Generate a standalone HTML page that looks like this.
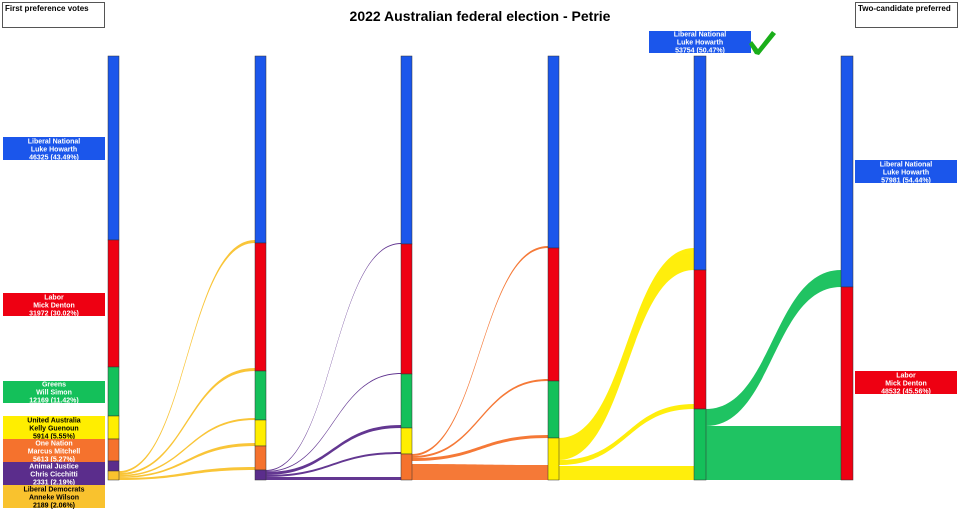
<!DOCTYPE html>
<html><head><meta charset="utf-8"><style>
body{margin:0;background:#fff;}
svg{display:block;font-family:"Liberation Sans",sans-serif;}
</style></head><body>
<svg width="960" height="509" viewBox="0 0 960 509" xmlns="http://www.w3.org/2000/svg">
<rect x="0" y="0" width="960" height="509" fill="#fff"/>
<rect x="2.5" y="2.5" width="102" height="25" fill="#fff" stroke="#555"/>
<text x="5" y="11" font-size="8" font-weight="bold">First preference votes</text>
<rect x="855.5" y="2.5" width="102" height="25" fill="#fff" stroke="#555"/>
<text x="858" y="11" font-size="8" font-weight="bold">Two-candidate preferred</text>
<text x="480" y="21" font-size="14" font-weight="bold" text-anchor="middle">2022 Australian federal election - Petrie</text>

<g opacity="0.95">
<path d="M119 471 C187 471 187 240 255 240 L255 243 C187 243 187 473 119 473Z" fill="#f9c22e"/>
<path d="M119 473 C187 473 187 368 255 368 L255 371 C187 371 187 475 119 475Z" fill="#f9c22e"/>
<path d="M119 475 C187 475 187 418 255 418 L255 420 C187 420 187 476.5 119 476.5Z" fill="#f9c22e"/>
<path d="M119 476.5 C187 476.5 187 443 255 443 L255 446 C187 446 187 478 119 478Z" fill="#f9c22e"/>
<path d="M119 478 C187 478 187 467 255 467 L255 470 C187 470 187 480 119 480Z" fill="#f9c22e"/>
<path d="M266 470 C333 470 333 243 401 243 L401 244 C333 244 333 471 266 471Z" fill="#5b2d8c"/>
<path d="M266 471 C333 471 333 373 401 373 L401 374 C333 374 333 472 266 472Z" fill="#5b2d8c"/>
<path d="M266 472 C333 472 333 425 401 425 L401 428 C333 428 333 475 266 475Z" fill="#5b2d8c"/>
<path d="M266 475 C333 475 333 452 401 452 L401 454 C333 454 333 477 266 477Z" fill="#5b2d8c"/>
<path d="M266 477 C333 477 333 477 401 477 L401 480 C333 480 333 480 266 480Z" fill="#5b2d8c"/>
<path d="M412 454 C480 454 480 246 548 246 L548 248 C480 248 480 456 412 456Z" fill="#f5722d"/>
<path d="M412 456 C480 456 480 379 548 379 L548 381 C480 381 480 458 412 458Z" fill="#f5722d"/>
<path d="M412 458 C480 458 480 435 548 435 L548 438 C480 438 480 461 412 461Z" fill="#f5722d"/>
<path d="M412 464 C480 464 480 465 548 465 L548 480 C480 480 480 480 412 480Z" fill="#f5722d"/>
<path d="M559 438 C627 438 627 248 694 248 L694 270 C627 270 627 460 559 460Z" fill="#ffee00"/>
<path d="M559 460 C627 460 627 404 694 404 L694 409 C627 409 627 465 559 465Z" fill="#ffee00"/>
<path d="M559 466 C627 466 627 466 694 466 L694 480 C627 480 627 480 559 480Z" fill="#ffee00"/>
<path d="M706 409 C773 409 773 270 841 270 L841 287 C773 287 773 426 706 426Z" fill="#14c05a"/>
<path d="M706 426 C773 426 773 426 841 426 L841 480 C773 480 773 480 706 480Z" fill="#14c05a"/>
</g>

<g stroke="#333" stroke-width="0.5">
<rect x="108" y="56" width="11" height="184" fill="#1b56eb"/>
<rect x="108" y="240" width="11" height="127" fill="#ee0012"/>
<rect x="108" y="367" width="11" height="49" fill="#14c05a"/>
<rect x="108" y="416" width="11" height="23" fill="#ffee00"/>
<rect x="108" y="439" width="11" height="22" fill="#f5722d"/>
<rect x="108" y="461" width="11" height="10" fill="#5b2d8c"/>
<rect x="108" y="471" width="11" height="9" fill="#f9c22e"/>
<rect x="255" y="56" width="11" height="187" fill="#1b56eb"/>
<rect x="255" y="243" width="11" height="128" fill="#ee0012"/>
<rect x="255" y="371" width="11" height="49" fill="#14c05a"/>
<rect x="255" y="420" width="11" height="26" fill="#ffee00"/>
<rect x="255" y="446" width="11" height="24" fill="#f5722d"/>
<rect x="255" y="470" width="11" height="10" fill="#5b2d8c"/>
<rect x="401" y="56" width="11" height="188" fill="#1b56eb"/>
<rect x="401" y="244" width="11" height="130" fill="#ee0012"/>
<rect x="401" y="374" width="11" height="54" fill="#14c05a"/>
<rect x="401" y="428" width="11" height="26" fill="#ffee00"/>
<rect x="401" y="454" width="11" height="26" fill="#f5722d"/>
<rect x="548" y="56" width="11" height="192" fill="#1b56eb"/>
<rect x="548" y="248" width="11" height="133" fill="#ee0012"/>
<rect x="548" y="381" width="11" height="57" fill="#14c05a"/>
<rect x="548" y="438" width="11" height="42" fill="#ffee00"/>
<rect x="694" y="56" width="12" height="214" fill="#1b56eb"/>
<rect x="694" y="270" width="12" height="139" fill="#ee0012"/>
<rect x="694" y="409" width="12" height="71" fill="#14c05a"/>
<rect x="841" y="56" width="12" height="231" fill="#1b56eb"/>
<rect x="841" y="287" width="12" height="193" fill="#ee0012"/>
</g>

<g font-size="7" font-weight="bold" text-anchor="middle">
<rect x="3" y="137" width="102" height="23" fill="#1b56eb"/>
<text fill="#fff" x="54" y="143.5">Liberal National</text><text fill="#fff" x="54" y="151.5">Luke Howarth</text><text fill="#fff" x="54" y="159.5">46325 (43.49%)</text>
<rect x="3" y="293" width="102" height="23" fill="#ee0012"/>
<text fill="#fff" x="54" y="299.5">Labor</text><text fill="#fff" x="54" y="307.5">Mick Denton</text><text fill="#fff" x="54" y="315.5">31972 (30.02%)</text>
<rect x="3" y="381" width="102" height="22" fill="#14c05a"/>
<text fill="#fff" x="54" y="386.5">Greens</text><text fill="#fff" x="54" y="394.5">Will Simon</text><text fill="#fff" x="54" y="402.5">12169 (11.42%)</text>
<rect x="3" y="416" width="102" height="23" fill="#ffee00"/>
<text fill="#000" x="54" y="422.5">United Australia</text><text fill="#000" x="54" y="430.5">Kelly Guenoun</text><text fill="#000" x="54" y="438.5">5914 (5.55%)</text>
<rect x="3" y="439" width="102" height="23" fill="#f5722d"/>
<text fill="#fff" x="54" y="445.5">One Nation</text><text fill="#fff" x="54" y="453.5">Marcus Mitchell</text><text fill="#fff" x="54" y="461.5">5613 (5.27%)</text>
<rect x="3" y="462" width="102" height="23" fill="#5b2d8c"/>
<text fill="#fff" x="54" y="468.5">Animal Justice</text><text fill="#fff" x="54" y="476.5">Chris Cicchitti</text><text fill="#fff" x="54" y="484.5">2331 (2.19%)</text>
<rect x="3" y="485" width="102" height="23" fill="#f9c22e"/>
<text fill="#000" x="54" y="491.5">Liberal Democrats</text><text fill="#000" x="54" y="499.5">Anneke Wilson</text><text fill="#000" x="54" y="507.5">2189 (2.06%)</text>

<rect x="649" y="31" width="102" height="22" fill="#1b56eb"/>
<text fill="#fff" x="700" y="36.5">Liberal National</text><text fill="#fff" x="700" y="44.5">Luke Howarth</text><text fill="#fff" x="700" y="52.5">53754 (50.47%)</text>

<rect x="855" y="160" width="102" height="23" fill="#1b56eb"/>
<text fill="#fff" x="906" y="166.5">Liberal National</text><text fill="#fff" x="906" y="174.5">Luke Howarth</text><text fill="#fff" x="906" y="182.5">57981 (54.44%)</text>
<rect x="855" y="371" width="102" height="23" fill="#ee0012"/>
<text fill="#fff" x="906" y="377.5">Labor</text><text fill="#fff" x="906" y="385.5">Mick Denton</text><text fill="#fff" x="906" y="393.5">48532 (45.56%)</text>
</g>
<path d="M752 41 L758 49 L772 31 L776 34 L759 55 L755 54 L749 44Z" fill="#1aae1a"/>
</svg>
</body></html>
